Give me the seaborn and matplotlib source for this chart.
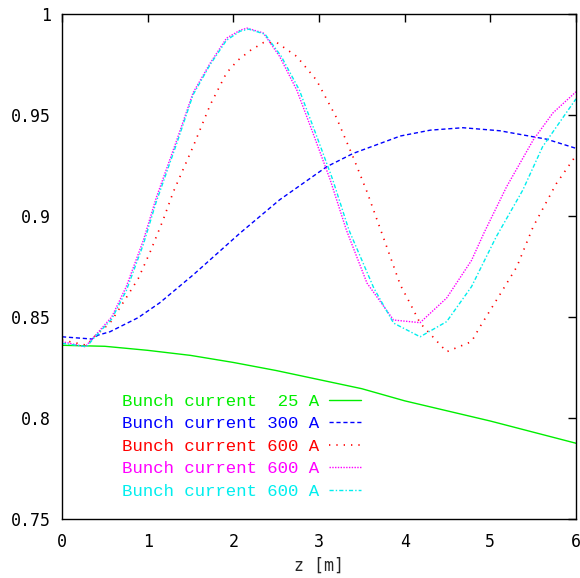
import numpy as np
import pandas as pd
import matplotlib
matplotlib.use("Agg")
import matplotlib.pyplot as plt
import seaborn as sns
from matplotlib.ticker import FuncFormatter

# ---- data ----
labels = ["Bunch current  25 A", "Bunch current 300 A", "Bunch current 600 A",
          "Bunch current 600 A", "Bunch current 600 A"]
colors = ["#00ee00", "#0000ff", "#ff0000", "#ff00ff", "#00eeee"]

z_25 = [0.0, 0.5, 1.0, 1.5, 2.0, 2.5, 3.0, 3.5, 4.0, 4.5, 5.0, 5.5, 6.0]
v_25 = [0.836, 0.8355, 0.8335, 0.831, 0.8275, 0.8235, 0.819, 0.8145, 0.8085, 0.8035, 0.7985, 0.793, 0.7875]

z_300 = [0.0, 0.35, 0.42, 0.56, 0.89, 1.14, 1.53, 2.08, 2.54, 3.09, 3.4, 3.95, 4.3, 4.68, 5.11, 5.66, 6.0]
v_300 = [0.8402, 0.8391, 0.841, 0.8427, 0.8497, 0.857, 0.8708, 0.8916, 0.908, 0.9244, 0.931, 0.9396, 0.9425, 0.9437, 0.9422, 0.938, 0.9335]

z_600a = [0.0, 0.29, 0.37, 0.56, 0.66, 0.89, 1.03, 1.18, 1.3, 1.53, 1.73, 1.92, 2.05, 2.2, 2.35, 2.51,
          2.74, 2.97, 3.2, 3.4, 3.56, 3.79, 3.95, 4.06, 4.18, 4.49, 4.78, 4.88, 5.11, 5.31, 5.5, 5.77, 6.0]
v_600a = [0.8386, 0.836, 0.840, 0.847, 0.8535, 0.869, 0.8823, 0.898, 0.912, 0.9343, 0.955, 0.9708, 0.977, 0.982, 0.9858, 0.9858,
          0.979, 0.9673, 0.949, 0.929, 0.912, 0.8848, 0.8658, 0.857, 0.847, 0.8328, 0.8378, 0.8452, 0.861, 0.8749, 0.8947, 0.916, 0.930]

z_600b = [0.0, 0.27, 0.37, 0.58, 0.75, 0.95, 1.1, 1.34, 1.53, 1.73, 1.92, 2.08, 2.16, 2.35, 2.54,
          2.74, 2.93, 3.13, 3.32, 3.56, 3.87, 4.18, 4.49, 4.78, 4.93, 5.19, 5.5, 5.73, 6.0]
v_600b = [0.8378, 0.8353, 0.840, 0.850, 0.865, 0.888, 0.909, 0.9376, 0.961, 0.9757, 0.988, 0.992, 0.993, 0.9906, 0.979,
          0.9624, 0.941, 0.918, 0.893, 0.8668, 0.8485, 0.8472, 0.8594, 0.878, 0.892, 0.9145, 0.9376, 0.951, 0.9615]

z_600c = [0.0, 0.29, 0.37, 0.58, 0.75, 0.95, 1.1, 1.34, 1.53, 1.73, 1.92, 2.08, 2.18, 2.37, 2.56,
          2.77, 2.96, 3.16, 3.35, 3.64, 3.87, 4.18, 4.49, 4.78, 5.07, 5.38, 5.61, 6.0]
v_600c = [0.8370, 0.8353, 0.8395, 0.849, 0.863, 0.886, 0.907, 0.936, 0.960, 0.975, 0.987, 0.9915, 0.9925, 0.990, 0.979,
          0.9624, 0.941, 0.918, 0.893, 0.8643, 0.847, 0.8402, 0.8477, 0.865, 0.8898, 0.9129, 0.9343, 0.958]

series_z = [z_25, z_300, z_600a, z_600b, z_600c]
series_v = [v_25, v_300, v_600a, v_600b, v_600c]

x_ticks = [0, 1, 2, 3, 4, 5, 6]
y_ticks = [0.75, 0.8, 0.85, 0.9, 0.95, 1.0]
x_label = "z [m]"

# ---- plot ----
sns.set_style("white")
plt.rcParams['font.family'] = ['DejaVu Sans Mono', 'DejaVu Sans']

fig = plt.figure(figsize=(5.80, 5.78), dpi=100)
ax = fig.add_axes([62/580, 59/578, 514/580, 505/578])

dash_styles = [None, (3, 2), (0.8, 3.6), (1, 1), (3, 1.5, 1, 1.5)]
widths = [1.0, 1.0, 1.2, 1.0, 1.0]
for i, (zz, vv) in enumerate(zip(series_z, series_v)):
    df = pd.DataFrame({"z": zz, "v": vv})
    sns.lineplot(data=df, x="z", y="v", ax=ax, color=colors[i], lw=widths[i],
                 label=labels[i], sort=False)
    line = ax.get_lines()[-1]
    if dash_styles[i] is not None:
        line.set_dashes(dash_styles[i])

ax.set_xlim(0, 6)
ax.set_ylim(0.75, 1.0)
ax.set_xticks(x_ticks)
ax.set_yticks(y_ticks)
ax.xaxis.set_major_formatter(FuncFormatter(lambda v, p: "%g" % v))
ax.yaxis.set_major_formatter(FuncFormatter(lambda v, p: "%g" % v))
ax.tick_params(direction="in", length=6, width=1, top=True, right=True,
               labelsize=12, colors="black")
ax.tick_params(axis="x", pad=10)
ax.tick_params(axis="y", pad=8)
for s in ax.spines.values():
    s.set_visible(True)
    s.set_color("black")
    s.set_linewidth(1.0)
ax.set_xlabel(x_label, fontsize=12, labelpad=4)
ax.set_ylabel("")
ax.grid(False)

leg = ax.legend(loc="lower left", bbox_to_anchor=(0.087, 0.009), frameon=False,
                markerfirst=False, handlelength=1.85, handletextpad=0.57,
                labelspacing=0.42, prop={"family": "Liberation Mono", "size": 12.5})
for t, c in zip(leg.get_texts(), colors):
    t.set_color(c)

fig.savefig("out.png", dpi=100)
